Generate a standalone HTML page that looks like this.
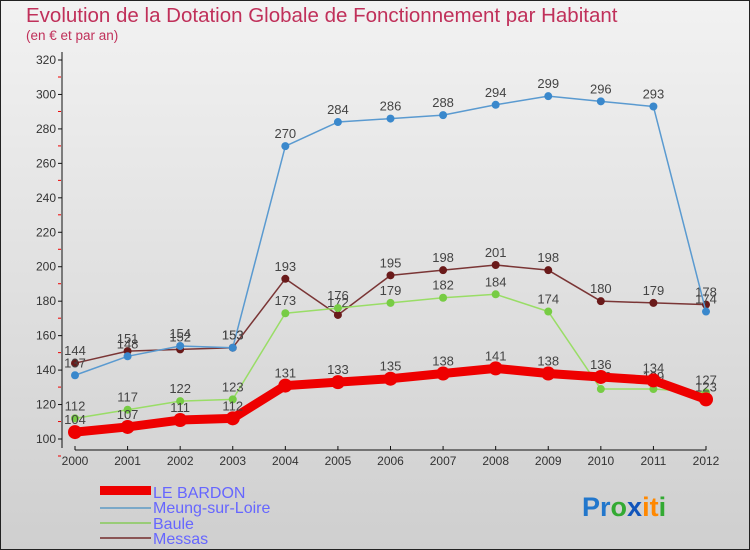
<!DOCTYPE html>
<html><head><meta charset="utf-8"><style>
body{margin:0;width:750px;height:550px;overflow:hidden;font-family:"Liberation Sans",sans-serif}
svg{display:block}
</style></head><body>
<svg id="c" width="750" height="550">
<defs><linearGradient id="bg" x1="0" y1="0" x2="0" y2="1"><stop offset="0" stop-color="#f2f2f2"/><stop offset="1" stop-color="#cfcfcf"/></linearGradient></defs>
<rect x="0.5" y="0.5" width="749" height="549" fill="url(#bg)" stroke="#222"/>
<text x="26" y="22" font-size="20.5" fill="#c0305a">Evolution de la Dotation Globale de Fonctionnement par Habitant</text>
<text x="26" y="40" font-size="13.5" fill="#c0305a">(en € et par an)</text>
<g id="axes"></g><g id="series"></g>
<g>
<rect x="100" y="486" width="51" height="9" fill="#e00"/>
<text x="153" y="498" font-size="16" fill="#6666ff">LE BARDON</text>
<line x1="100" y1="508" x2="151" y2="508" stroke="#7aa8c8" stroke-width="2"/>
<text x="153" y="513" font-size="16" fill="#6666ff">Meung-sur-Loire</text>
<line x1="100" y1="523" x2="151" y2="523" stroke="#99cc77" stroke-width="2"/>
<text x="153" y="529" font-size="16" fill="#6666ff">Baule</text>
<line x1="100" y1="538" x2="151" y2="538" stroke="#8a5555" stroke-width="2"/>
<text x="153" y="544" font-size="16" fill="#6666ff">Messas</text>
</g>
<text x="582" y="516" font-size="27" font-weight="bold"><tspan fill="#2277cc">Pr</tspan><tspan fill="#33aa33">o</tspan><tspan fill="#1155bb">x</tspan><tspan fill="#ff8800">it</tspan><tspan fill="#33aa33">i</tspan></text>
</svg>
<script>
const years=[2000,2001,2002,2003,2004,2005,2006,2007,2008,2009,2010,2011,2012];
const bardon=[104,107,111,112,131,133,135,138,141,138,136,134,123];
const meung=[137,148,154,153,270,284,286,288,294,299,296,293,174];
const baule=[112,117,122,123,173,176,179,182,184,174,129,129,127];
const messas=[144,151,152,153,193,172,195,198,201,198,180,179,178];
const yTicks=[100,120,140,160,180,200,220,240,260,280,300,320];
const NS="http://www.w3.org/2000/svg";
const xS=i=>75+i*(706-75)/12;
const yS=v=>439-(v-100)*(439-60)/220;
function el(t,a,p){const e=document.createElementNS(NS,t);for(const k in a)e.setAttribute(k,a[k]);p.appendChild(e);return e;}
const ax=document.getElementById('axes');
let l=el('line',{x1:62,y1:52,x2:62,y2:448,stroke:'#111'},ax);


l=el('line',{x1:75,y1:450,x2:706,y2:450,stroke:'#111'},ax);


yTicks.forEach(v=>{const y=yS(v);el('line',{x1:58,y1:y,x2:62,y2:y,stroke:'#111'},ax);
el('line',{x1:58,y1:y+17,x2:61,y2:y+17,stroke:'#e00'},ax);
const t=el('text',{x:56,y:y+4,'font-size':12,fill:'#333','text-anchor':'end'},ax);t.textContent=v;

});
years.forEach((yr,i)=>{const x=xS(i);el('line',{x1:x,y1:446,x2:x,y2:450,stroke:'#111'},ax);
const t=el('text',{x:x,y:465,'font-size':12,fill:'#333','text-anchor':'middle'},ax);t.textContent=yr;

});
const sg=document.getElementById('series');
function draw(d,name,col,w,r,dot){const g=el('g',{},sg);


el('polyline',{points:d.map((v,i)=>xS(i)+','+yS(v)).join(' '),fill:'none',stroke:col,'stroke-width':w,'stroke-linejoin':'round'},g);
d.forEach((v,i)=>{const c=el('circle',{cx:xS(i),cy:yS(v),r:r,fill:dot},g);


const t=el('text',{x:xS(i),y:yS(v)-8,'font-size':13,fill:'#444','text-anchor':'middle'},g);t.textContent=v;});}
draw(messas,'messas','#7a3535',1.5,4,'#6a1a1a');
draw(meung,'meung','#5a9ad0',1.5,4,'#3a88cc');
draw(baule,'baule','#99dd66',1.5,4,'#77cc44');
draw(bardon,'le-bardon','#ee0000',9,7,'#ee0000');
</script>
</body></html>
